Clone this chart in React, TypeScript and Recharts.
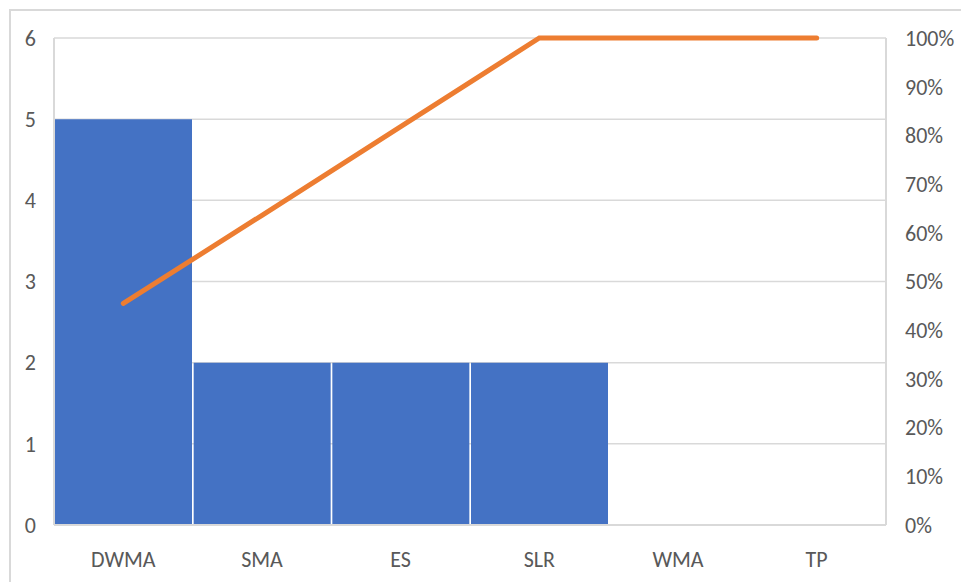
import {
  ComposedChart,
  Bar,
  Line,
  XAxis,
  YAxis,
  CartesianGrid,
} from "recharts";

// categories along the bottom
const methods: string[] = ["DWMA", "SMA", "ES", "SLR", "WMA", "TP"];

// bar heights (left axis)
const counts: number[] = [5, 2, 2, 2, 0, 0];

// cumulative share (right axis, %)
const cumulative: number[] = [45.5, 63.6, 81.8, 100, 100, 100];

const countTicks: number[] = [0, 1, 2, 3, 4, 5, 6];
const percentTicks: number[] = [0, 10, 20, 30, 40, 50, 60, 70, 80, 90, 100];

const rows = methods.map((method, i) => ({
  method,
  count: counts[i],
  cumulative: cumulative[i],
}));

const FONT = "Carlito, Calibri, Lato, 'Liberation Sans', sans-serif";
const tickStyle = { fill: "#595959", fontSize: 22, fontFamily: FONT };
const axisStroke = "#D9D9D9";

export default function App() {
  return (
    <div
      style={{
        position: "absolute",
        left: 0,
        top: 0,
        width: 961,
        height: 582,
        overflow: "hidden",
        background: "#fff",
      }}
    >
      {/* chart area frame, cropped at right and bottom */}
      <div
        style={{
          position: "absolute",
          left: 9,
          top: 9,
          width: 1000,
          height: 1000,
          border: "2px solid #D9D9D9",
        }}
      />
      <ComposedChart
        width={961}
        height={582}
        data={rows}
        margin={{ top: 38, right: 0, bottom: 0, left: 0 }}
        barCategoryGap={1}
        style={{ position: "absolute", left: 0, top: 0 }}
      >
        <CartesianGrid
          yAxisId="count"
          vertical={false}
          stroke={axisStroke}
          strokeWidth={1.5}
        />
        <XAxis
          dataKey="method"
          height={57}
          tickLine={false}
          tickMargin={20}
          axisLine={{ stroke: axisStroke, strokeWidth: 2 }}
          tick={tickStyle}
        />
        <YAxis
          yAxisId="count"
          orientation="left"
          width={54}
          domain={[0, 6]}
          ticks={countTicks}
          tickLine={false}
          tickMargin={12}
          axisLine={{ stroke: axisStroke, strokeWidth: 2 }}
          tick={tickStyle}
        />
        <YAxis
          yAxisId="pct"
          orientation="right"
          width={75}
          domain={[0, 100]}
          ticks={percentTicks}
          tickFormatter={(v: number) => `${v}%`}
          tickLine={false}
          tickMargin={13}
          axisLine={{ stroke: axisStroke, strokeWidth: 2 }}
          tick={{ ...tickStyle, textAnchor: "start" }}
        />
        <Bar
          yAxisId="count"
          dataKey="count"
          fill="#4472C4"
          isAnimationActive={false}
        />
        <Line
          yAxisId="pct"
          type="linear"
          dataKey="cumulative"
          stroke="#ED7D31"
          strokeWidth={5}
          strokeLinecap="round"
          dot={false}
          activeDot={false}
          isAnimationActive={false}
        />
      </ComposedChart>
    </div>
  );
}
